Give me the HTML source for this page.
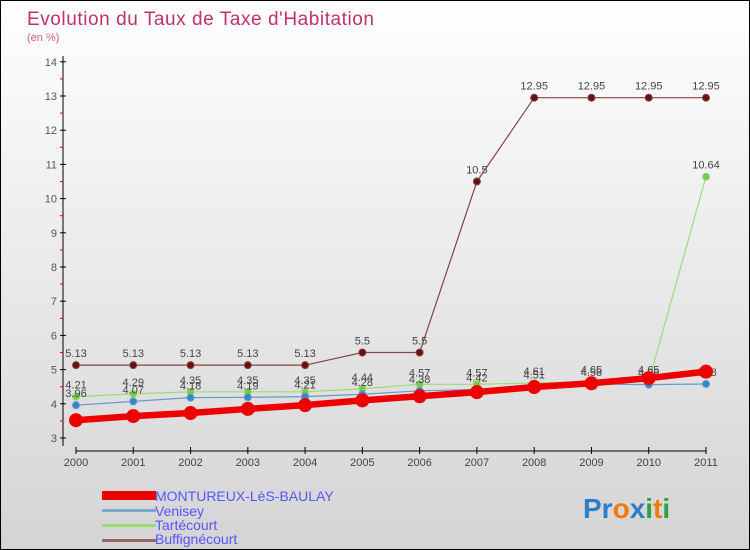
<!DOCTYPE html>
<html><head><meta charset="utf-8"><style>
body{margin:0;}
#wrap{width:750px;height:550px;position:relative;overflow:hidden;box-sizing:border-box;border:1px solid #000;background:linear-gradient(#ffffff,#d4d4d4);font-family:"Liberation Sans",sans-serif;}
</style></head><body>
<div id="wrap">
<svg id="c" width="750" height="550">
<text x="26" y="24" font-size="19" fill="#c0306a" textLength="347">Evolution du Taux de Taxe d'Habitation</text>
<text x="26" y="40" font-size="11" fill="#d0608a">(en %)</text>
<g id="axes"></g><g id="series"></g>
<g>
<rect x="101" y="490" width="54" height="9" fill="#e00"/>
<text x="154" y="500" font-size="14" fill="#55f">MONTUREUX-LèS-BAULAY</text>
<rect x="101" y="508" width="54" height="3" fill="#7aa8cc"/>
<text x="154" y="515" font-size="14" fill="#55f">Venisey</text>
<rect x="101" y="523" width="54" height="3" fill="#99dd77"/>
<text x="154" y="529" font-size="14" fill="#55f">Tartécourt</text>
<rect x="101" y="538" width="54" height="3" fill="#996666"/>
<text x="154" y="543" font-size="14" fill="#55f">Buffignécourt</text>
</g>
<text x="582" y="517" font-size="28" font-weight="bold"><tspan fill="#2a7fc8">Pr</tspan><tspan fill="#f07a10">o</tspan><tspan fill="#2a7fc8">x</tspan><tspan fill="#30a040">i</tspan><tspan fill="#f07a10">t</tspan><tspan fill="#30a040">i</tspan></text>
</svg>
</div>
<script>
const years=[2000,2001,2002,2003,2004,2005,2006,2007,2008,2009,2010,2011];
const yTicks=[3,4,5,6,7,8,9,10,11,12,13,14];
const montureux=[3.52,3.64,3.73,3.85,3.96,4.1,4.22,4.34,4.49,4.6,4.75,4.94];
const venisey=[3.96,4.07,4.18,4.19,4.21,4.28,4.38,4.42,4.51,4.58,4.56,4.58];
const tartecourt=[4.21,4.29,4.35,4.35,4.35,4.44,4.57,4.57,4.61,4.65,4.65,10.64];
const buffignecourt=[5.13,5.13,5.13,5.13,5.13,5.5,5.5,10.5,12.95,12.95,12.95,12.95];
const NS="http://www.w3.org/2000/svg";
function X(i){return 75+i*(630/11);}
function Y(v){return 437-(v-3)*34.2;}
function mk(t,a,p){const e=document.createElementNS(NS,t);for(const k in a)e.setAttribute(k,a[k]);p.appendChild(e);return e;}
const ax=document.getElementById('axes'),sg=document.getElementById('series');
let l=mk('line',{x1:62,y1:55,x2:62,y2:445,stroke:'#000'},ax);


yTicks.forEach(v=>{mk('line',{x1:59,y1:Y(v),x2:65,y2:Y(v),stroke:'#000'},ax);
 if(v<14){mk('line',{x1:59,y1:Y(v+0.5),x2:62,y2:Y(v+0.5),stroke:'#e00'},ax);}
 const t=mk('text',{x:56,y:Y(v)+4,'font-size':11,fill:'#555','text-anchor':'end'},ax);t.textContent=v;
 
 });
l=mk('line',{x1:75,y1:450,x2:705,y2:450,stroke:'#000'},ax);


years.forEach((y,i)=>{mk('line',{x1:X(i),y1:446,x2:X(i),y2:453,stroke:'#000'},ax);
 const t=mk('text',{x:X(i),y:465,'font-size':11,fill:'#444','text-anchor':'middle'},ax);t.textContent=y;
 
 });
function draw(vals,col,dot,w,r,name,labels){
 const g=mk('g',{},sg);
 
 
 mk('polyline',{points:vals.map((v,i)=>X(i)+','+Y(v)).join(' '),fill:'none',stroke:col,'stroke-width':w},g);
 vals.forEach((v,i)=>{const c=mk('circle',{cx:X(i),cy:Y(v),r:r,fill:dot,stroke:col,'stroke-width':1},g);
  
  
  if(labels){const t=mk('text',{x:X(i),y:Y(v)-8,'font-size':11,fill:'#444','text-anchor':'middle'},g);t.textContent=v;
  
  }});
}
draw(buffignecourt,'#884444','#661111',1.2,3.5,'buffignecourt',true);
draw(tartecourt,'#99dd77','#77cc44',1.2,3.5,'tartecourt',true);
draw(venisey,'#6699cc','#3388cc',1.2,3.5,'venisey',true);
draw(montureux,'#ee0000','#ee0000',6.5,6.5,'montureux',false);
</script>
</body></html>
